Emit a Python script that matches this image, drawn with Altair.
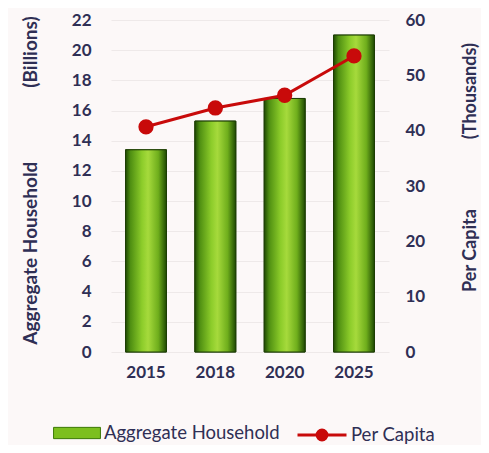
import altair as alt
import pandas as pd

years = ["2015", "2018", "2020", "2025"]
aggregate_billions = [13.4, 15.3, 16.8, 21.0]
per_capita_thousands = [40.7, 44.1, 46.4, 53.5]

df = pd.DataFrame({
    "year": years,
    "agg": aggregate_billions,
    "pc": per_capita_thousands,
    "s1": ["Aggregate Household"] * 4,
    "s2": ["Per Capita"] * 4,
})

TXT = "#2f2f55"
FONT = "Lato"
NB = "\u00a0"

x_enc = alt.X("year:N", title=None,
              scale=alt.Scale(paddingInner=0.41, paddingOuter=0.21),
              axis=alt.Axis(labelAngle=0, domain=False, ticks=False, labelPadding=12,
                            labelFontSize=17, labelFontWeight="bold", labelColor=TXT,
                            labelFont=FONT))

left_title = "Aggregate Household" + NB * 16 + "(Billions)"
right_title = "Per Capita" + NB * 16 + "(Thousands)"

bars_legend = alt.Chart(df).mark_bar(stroke="#1d3d05", strokeWidth=1).encode(
    x=x_enc,
    y=alt.Y("agg:Q", title=left_title,
            scale=alt.Scale(domain=[0, 22], nice=False),
            axis=alt.Axis(values=list(range(0, 23, 2)), domain=False, ticks=False,
                          labelPadding=20, labelFontSize=17, labelFontWeight="bold",
                          labelColor=TXT, labelFont=FONT, grid=True, gridColor="#eee9e9",
                          titleFont=FONT, titleFontSize=19, titleFontWeight="bold",
                          titleColor=TXT, titleAngle=270, titleBaseline="middle",
                          titleX=-81, titleY=160)),
    fill=alt.Fill("s1:N", scale=alt.Scale(domain=["Aggregate Household"], range=["#7cbf1e"]),
                  legend=alt.Legend(title=None, orient="none", legendX=-58, legendY=389,
                                    symbolType="M-1,-0.24H1V0.24H-1Z", symbolSize=2200,
                                    symbolStrokeColor="#3d7a08", symbolStrokeWidth=1,
                                    labelFont=FONT, labelFontSize=18.5, labelColor=TXT,
                                    labelOffset=3, labelLimit=300)),
)

grad = alt.Gradient(
    gradient="linear", x1=0, x2=1, y1=0, y2=0,
    stops=[
        alt.GradientStop(color="#1f4a03", offset=0),
        alt.GradientStop(color="#4f8f12", offset=0.12),
        alt.GradientStop(color="#8ccc2a", offset=0.4),
        alt.GradientStop(color="#a6da3c", offset=0.55),
        alt.GradientStop(color="#6fae1c", offset=0.8),
        alt.GradientStop(color="#1f4a03", offset=1),
    ],
)

bars = alt.Chart(df).mark_bar(color=grad, stroke="#1d3d05", strokeWidth=1).encode(
    x=x_enc,
    y=alt.Y("agg:Q", scale=alt.Scale(domain=[0, 22], nice=False), axis=None),
)

line = alt.Chart(df).mark_line(
    strokeWidth=3,
    point=alt.OverlayMarkDef(filled=True, fill="#c80a0a", stroke="#5a5aa8",
                             strokeWidth=1.5, size=190),
).encode(
    x=x_enc,
    y=alt.Y("pc:Q", title=right_title,
            scale=alt.Scale(domain=[0, 60], nice=False),
            axis=alt.Axis(orient="right", values=list(range(0, 61, 10)), domain=False,
                          ticks=False, grid=False, labelPadding=16, labelFontSize=17,
                          labelFontWeight="bold", labelColor=TXT, labelFont=FONT,
                          titleFont=FONT, titleFontSize=18, titleFontWeight="bold",
                          titleColor=TXT, titleAngle=270, titleBaseline="middle",
                          titleX=81, titleY=147)),
    stroke=alt.Stroke("s2:N", scale=alt.Scale(domain=["Per Capita"], range=["#c80a0a"]),
                      legend=alt.Legend(title=None, orient="none", legendX=185, legendY=389,
                                        symbolType="M-1,0H-0.2M0.2,0H1M0.2,0A0.2,0.2 0 1,1 -0.2,0A0.2,0.2 0 1,1 0.2,0",
                                        symbolSize=2400, symbolStrokeWidth=3,
                                        symbolFillColor="#c80a0a",
                                        labelFont=FONT, labelFontSize=18.5, labelColor=TXT,
                                        labelOffset=3, labelLimit=300)),
)

chart = alt.layer(bars_legend, bars, line).resolve_scale(
    y="independent", fill="independent", stroke="independent"
).properties(
    width=278, height=332,
    autosize=alt.AutoSizeParams(type="none"),
    padding={"left": 103, "top": 12, "right": 92, "bottom": 93},
    background="#fcf8f8",
).configure_view(stroke=None)

chart.save("out.html", embed_options={"renderer": "svg", "actions": False})
